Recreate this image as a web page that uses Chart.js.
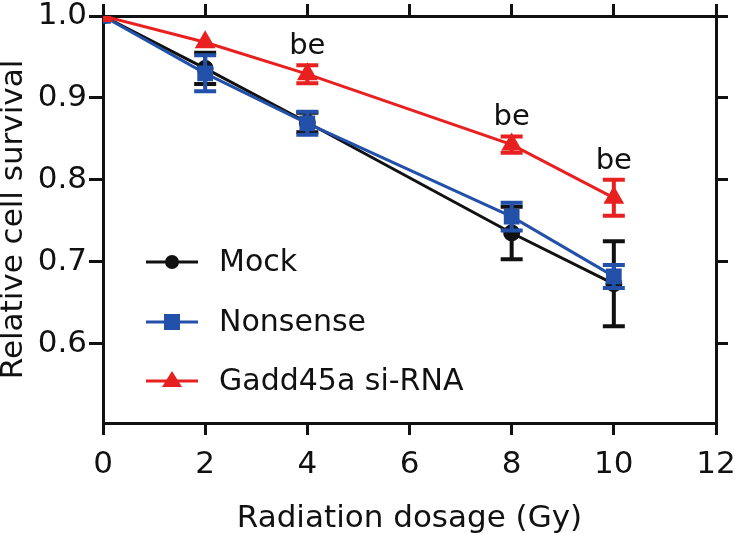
<!DOCTYPE html>
<html>
<head>
<meta charset="utf-8">
<script src="https://cdn.jsdelivr.net/npm/chart.js@4/dist/chart.umd.min.js"></script>
<style>
  html, body { margin:0; padding:0; background:#fff; }
  #wrap { width:740px; height:533px; position:relative; }
</style>
</head>
<body>
<div id="wrap"><canvas id="c"></canvas></div>
<script>
// data
const doses = [0, 2, 4, 8, 10];
const mockMean = [1.0, 0.936, 0.87, 0.735, 0.673];
const mockErr  = [0.0, 0.019, 0.012, 0.032, 0.052];
const nonsenseMean = [1.0, 0.93, 0.869, 0.755, 0.682];
const nonsenseErr  = [0.0, 0.022, 0.014, 0.017, 0.014];
const siMean = [1.0, 0.968, 0.929, 0.843, 0.778];
const siErr  = [0.0, 0.0, 0.011, 0.01, 0.022];
const sigLabel = ['', '', 'be', 'be', 'be'];

const xTicks = [0, 2, 4, 6, 8, 10, 12];
const yTicks = [0.6, 0.7, 0.8, 0.9, 1.0];

const FONT = '"DejaVu Sans", Verdana, sans-serif';

function pts(means) { return doses.map((d, i) => ({ x: d, y: means[i] })); }

// error bars + significance letters, drawn per dataset so stacking follows draw order
const errorBars = {
  id: 'errorBars',
  afterDatasetDraw(chart, args) {
    const ds = chart.data.datasets[args.index];
    if (!ds.errors) return;
    const ctx = chart.ctx, xs = chart.scales.x, ys = chart.scales.y;
    ctx.save();
    ctx.strokeStyle = ds.borderColor;
    ctx.lineWidth = 4;
    ds.data.forEach((p, i) => {
      const e = ds.errors[i];
      if (!e) return;
      const px = xs.getPixelForValue(p.x);
      const top = ys.getPixelForValue(p.y + e), bot = ys.getPixelForValue(p.y - e);
      ctx.beginPath();
      ctx.moveTo(px, top); ctx.lineTo(px, bot);
      ctx.moveTo(px - 11, top); ctx.lineTo(px + 11, top);
      ctx.moveTo(px - 11, bot); ctx.lineTo(px + 11, bot);
      ctx.stroke();
      if (ds.sig && ds.sig[i]) {
        ctx.fillStyle = '#111';
        ctx.font = '29px ' + FONT;
        ctx.textAlign = 'center';
        ctx.textBaseline = 'alphabetic';
        ctx.fillText(ds.sig[i], px, top - 11);
      }
    });
    ctx.restore();
  }
};

// legend sits inside the plot area
const insideLegend = {
  id: 'insideLegend',
  afterDraw(chart) {
    const ctx = chart.ctx;
    const rows = [262, 322, 381];
    ctx.save();
    chart.data.datasets.forEach((ds, i) => {
      const y = rows[i];
      ctx.strokeStyle = ds.borderColor;
      ctx.lineWidth = 3;
      ctx.beginPath(); ctx.moveTo(146, y); ctx.lineTo(198, y); ctx.stroke();
      ctx.fillStyle = ds.backgroundColor;
      const cx = 172;
      ctx.beginPath();
      if (ds.pointStyle === 'circle') ctx.arc(cx, y, 7, 0, Math.PI * 2);
      else if (ds.pointStyle === 'rect') ctx.rect(cx - 8, y - 8, 16, 16);
      else { ctx.moveTo(cx, y - 10); ctx.lineTo(cx + 10, y + 6); ctx.lineTo(cx - 10, y + 6); ctx.closePath(); }
      ctx.fill();
      ctx.fillStyle = '#111';
      ctx.font = '30px ' + FONT;
      ctx.textAlign = 'left';
      ctx.textBaseline = 'middle';
      ctx.fillText(ds.label, 219, y + 1);
    });
    ctx.restore();
  }
};

const tickGrid = { drawOnChartArea: false, color: '#111', lineWidth: 3, tickLength: 12 };
const axisBorder = { color: '#111', width: 3 };

// fixed scale sizes so the plot box lands where it does in the figure
function fixH(h) { return s => { s.height = h; s.paddingLeft = 0; s.paddingRight = 0; }; }
function fixW(w) { return s => { s.width = w; s.paddingTop = 0; s.paddingBottom = 0; }; }

new Chart(document.getElementById('c'), {
  type: 'line',
  data: {
    datasets: [
      { label: 'Mock', data: pts(mockMean), errors: mockErr, borderColor: '#111111', backgroundColor: '#111111',
        pointStyle: 'circle', pointRadius: 7, borderWidth: 3, order: 3 },
      { label: 'Nonsense', data: pts(nonsenseMean), errors: nonsenseErr, borderColor: '#2350a8', backgroundColor: '#2350a8',
        pointStyle: 'rect', pointRadius: 9, borderWidth: 3, order: 2 },
      { label: 'Gadd45a si-RNA', data: pts(siMean), errors: siErr, sig: sigLabel, borderColor: '#e8201f', backgroundColor: '#e8201f',
        pointStyle: 'triangle', pointRadius: 9, borderWidth: 3, order: 1 }
    ]
  },
  options: {
    responsive: true, maintainAspectRatio: false, animation: false,
    layout: { padding: 0 },
    plugins: { legend: { display: false }, tooltip: { enabled: false } },
    scales: {
      x: {
        type: 'linear', position: 'bottom', min: 0, max: 12,
        afterBuildTicks: s => { s.ticks = xTicks.map(v => ({ value: v })); },
        afterFit: fixH(110),
        grid: tickGrid, border: axisBorder,
        ticks: { color: '#111', font: { family: FONT, size: 31 }, padding: 11 },
        title: { display: true, text: 'Radiation dosage (Gy)', color: '#111', font: { family: FONT, size: 31, lineHeight: 0.9 }, padding: 0 }
      },
      x2: {
        type: 'linear', position: 'top', min: 0, max: 12,
        afterBuildTicks: s => { s.ticks = xTicks.map(v => ({ value: v })); },
        afterFit: fixH(16),
        grid: tickGrid, border: axisBorder, ticks: { display: false }
      },
      y: {
        type: 'linear', position: 'left', min: 0.503, max: 1.0,
        afterBuildTicks: s => { s.ticks = yTicks.map(v => ({ value: v })); },
        afterFit: fixW(103),
        grid: { ...tickGrid, tickLength: 14 }, border: axisBorder,
        ticks: { color: '#111', font: { family: FONT, size: 31 }, padding: 2, callback: v => v.toFixed(1) },
        title: { display: true, text: 'Relative cell survival', color: '#111', font: { family: FONT, size: 31, lineHeight: 0.9 }, padding: 0 }
      },
      y2: {
        type: 'linear', position: 'right', min: 0.503, max: 1.0,
        afterBuildTicks: s => { s.ticks = yTicks.map(v => ({ value: v })); },
        afterFit: fixW(24),
        grid: tickGrid, border: axisBorder, ticks: { display: false }
      }
    }
  },
  plugins: [errorBars, insideLegend]
});
</script>
</body>
</html>
